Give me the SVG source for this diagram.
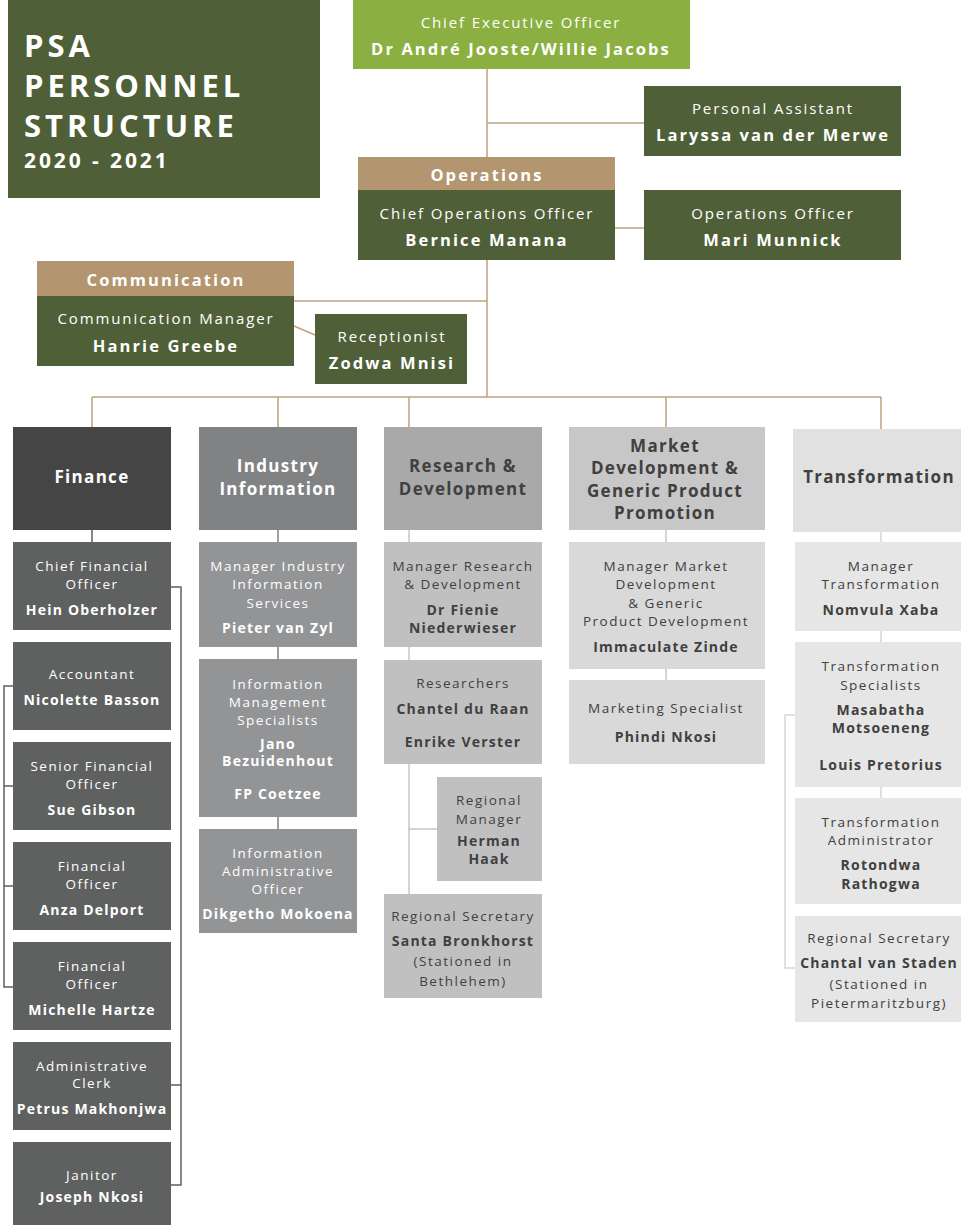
<svg xmlns="http://www.w3.org/2000/svg" width="961" height="1225" viewBox="0 0 961 1225">
<style>
text{font-family:"Open Sans","Liberation Sans",sans-serif;text-anchor:middle}
.r{font-size:13.5px;letter-spacing:1.5px}
.n{font-size:14px;font-weight:bold;letter-spacing:1.2px}
.h{font-size:17px;font-weight:bold;letter-spacing:1.3px}
.tr{font-size:15px;letter-spacing:1.9px}
.tn{font-size:16.5px;font-weight:bold;letter-spacing:2.1px}
.big{text-anchor:start;font-size:31px;font-weight:bold;letter-spacing:4px}
.w{fill:#fff}
.d{fill:#404040}
.g{fill:#4F5F38}
.tan{fill:#B39670}
.ln{fill:none;stroke:#BFA27F;stroke-width:1.5}
.lf{fill:none;stroke:#5E5F5F;stroke-width:1.5}
.li{fill:none;stroke:#7F8082;stroke-width:1.5}
.lr{fill:none;stroke:#C6C6C6;stroke-width:1.5}
.lt{fill:none;stroke:#D6D6D6;stroke-width:1.5}
</style>
<g id="connectors">
<path class="ln" d="M487 69V157M487 123H644M615 228H644M487 260V397M294 301H487M294 326L315 335M92 397H881M92 397V427M278 397V427M409 397V427M666 397V427M881 397V429"/>
<path class="lf" d="M92 530V542M171 587H181V1185H171M171 1085H181M13 686H4V987H13M4 786H13M4 886H13"/>
<path class="li" d="M278 530V542M278 647V659M278 817V829"/>
<path class="lr" d="M409 530V542M409 647V660M409 764V894M409 829H437M666 530V542M666 669V680"/>
<path class="lt" d="M881 532V542M881 631V642M881 787V798M795 715H785V968H795"/>
</g>
<g id="title">
<rect x="8" y="0" width="312" height="198" class="g"/>
<text x="24" y="57" class="w big">PSA</text>
<text x="24" y="97" class="w big">PERSONNEL</text>
<text x="24" y="137" class="w big">STRUCTURE</text>
<text x="24" y="168" class="w" style="text-anchor:start;font-size:21px;font-weight:bold;letter-spacing:2.9px">2020 - 2021</text>
</g>
<g id="ceo">
<rect x="353" y="0" width="337" height="69" fill="#8BB041"/>
<text x="521" y="28" class="w tr">Chief Executive Officer</text>
<text x="521" y="55" class="w tn">Dr André Jooste/Willie Jacobs</text>
</g>
<g id="pa">
<rect x="644" y="86" width="257" height="70" class="g"/>
<text x="773" y="114" class="w tr">Personal Assistant</text>
<text x="773" y="141" class="w tn">Laryssa van der Merwe</text>
</g>
<g id="operations">
<rect x="358" y="157" width="257" height="33" class="tan"/>
<text x="487" y="181" class="w tn">Operations</text>
<rect x="358" y="190" width="257" height="70" class="g"/>
<text x="487" y="219" class="w tr">Chief Operations Officer</text>
<text x="487" y="246" class="w tn">Bernice Manana</text>
</g>
<g id="ops-officer">
<rect x="644" y="190" width="257" height="70" class="g"/>
<text x="773" y="219" class="w tr">Operations Officer</text>
<text x="773" y="246" class="w tn">Mari Munnick</text>
</g>
<g id="communication">
<rect x="37" y="261" width="257" height="35" class="tan"/>
<text x="166" y="286" class="w tn">Communication</text>
<rect x="37" y="296" width="257" height="70" class="g"/>
<text x="166" y="324" class="w tr">Communication Manager</text>
<text x="166" y="352" class="w tn">Hanrie Greebe</text>
</g>
<g id="receptionist">
<rect x="315" y="314" width="152" height="70" class="g"/>
<text x="392" y="342" class="w tr">Receptionist</text>
<text x="392" y="369" class="w tn">Zodwa Mnisi</text>
</g>
<g id="finance">
<rect x="13" y="427" width="158" height="103" fill="#454545"/>
<text x="92" y="483" class="h w">Finance</text>
</g>
<g id="industry">
<rect x="199" y="427" width="158" height="103" fill="#818284"/>
<text x="278" y="472" class="h w">Industry</text>
<text x="278" y="495" class="h w">Information</text>
</g>
<g id="rnd">
<rect x="384" y="427" width="158" height="103" fill="#A9A9A9"/>
<text x="463" y="472" class="h d">Research &amp;</text>
<text x="463" y="495" class="h d">Development</text>
</g>
<g id="market">
<rect x="569" y="427" width="196" height="103" fill="#C7C7C7"/>
<text x="665" y="452" class="h d">Market</text>
<text x="665" y="474" class="h d">Development &amp;</text>
<text x="665" y="497" class="h d">Generic Product</text>
<text x="665" y="519" class="h d">Promotion</text>
</g>
<g id="transformation">
<rect x="793" y="429" width="168" height="103" fill="#E1E1E1"/>
<text x="879" y="483" class="h d">Transformation</text>
</g>
<g id="cfo">
<rect x="13" y="542" width="158" height="88" fill="#5F6060"/>
<text x="92" y="571" class="r w">Chief Financial</text>
<text x="92" y="589" class="r w">Officer</text>
<text x="92" y="615" class="n w">Hein Oberholzer</text>
</g>
<g id="accountant">
<rect x="13" y="642" width="158" height="88" fill="#5F6060"/>
<text x="92" y="679" class="r w">Accountant</text>
<text x="92" y="705" class="n w">Nicolette Basson</text>
</g>
<g id="sfo">
<rect x="13" y="742" width="158" height="88" fill="#5F6060"/>
<text x="92" y="771" class="r w">Senior Financial</text>
<text x="92" y="789" class="r w">Officer</text>
<text x="92" y="815" class="n w">Sue Gibson</text>
</g>
<g id="fo1">
<rect x="13" y="842" width="158" height="88" fill="#5F6060"/>
<text x="92" y="871" class="r w">Financial</text>
<text x="92" y="889" class="r w">Officer</text>
<text x="92" y="915" class="n w">Anza Delport</text>
</g>
<g id="fo2">
<rect x="13" y="942" width="158" height="88" fill="#5F6060"/>
<text x="92" y="971" class="r w">Financial</text>
<text x="92" y="989" class="r w">Officer</text>
<text x="92" y="1015" class="n w">Michelle Hartze</text>
</g>
<g id="clerk">
<rect x="13" y="1042" width="158" height="88" fill="#5F6060"/>
<text x="92" y="1071" class="r w">Administrative</text>
<text x="92" y="1088" class="r w">Clerk</text>
<text x="92" y="1114" class="n w">Petrus Makhonjwa</text>
</g>
<g id="janitor">
<rect x="13" y="1142" width="158" height="83" fill="#5F6060"/>
<text x="92" y="1180" class="r w">Janitor</text>
<text x="92" y="1202" class="n w">Joseph Nkosi</text>
</g>
<g id="mgr-industry">
<rect x="199" y="542" width="158" height="105" fill="#939496"/>
<text x="278" y="571" class="r w">Manager Industry</text>
<text x="278" y="589" class="r w">Information</text>
<text x="278" y="608" class="r w">Services</text>
<text x="278" y="633" class="n w">Pieter van Zyl</text>
</g>
<g id="ims">
<rect x="199" y="659" width="158" height="158" fill="#939496"/>
<text x="278" y="689" class="r w">Information</text>
<text x="278" y="707" class="r w">Management</text>
<text x="278" y="725" class="r w">Specialists</text>
<text x="278" y="749" class="n w">Jano</text>
<text x="278" y="766" class="n w">Bezuidenhout</text>
<text x="278" y="799" class="n w">FP Coetzee</text>
</g>
<g id="iao">
<rect x="199" y="829" width="158" height="104" fill="#939496"/>
<text x="278" y="858" class="r w">Information</text>
<text x="278" y="876" class="r w">Administrative</text>
<text x="278" y="894" class="r w">Officer</text>
<text x="278" y="919" class="n w">Dikgetho Mokoena</text>
</g>
<g id="mgr-rnd">
<rect x="384" y="542" width="158" height="105" fill="#C0C0C0"/>
<text x="463" y="571" class="r d">Manager Research</text>
<text x="463" y="589" class="r d">&amp; Development</text>
<text x="463" y="615" class="n d">Dr Fienie</text>
<text x="463" y="633" class="n d">Niederwieser</text>
</g>
<g id="researchers">
<rect x="384" y="660" width="158" height="104" fill="#C0C0C0"/>
<text x="463" y="688" class="r d">Researchers</text>
<text x="463" y="714" class="n d">Chantel du Raan</text>
<text x="463" y="747" class="n d">Enrike Verster</text>
</g>
<g id="regional-mgr">
<rect x="437" y="777" width="105" height="104" fill="#C0C0C0"/>
<text x="489" y="805" class="r d">Regional</text>
<text x="489" y="824" class="r d">Manager</text>
<text x="489" y="846" class="n d">Herman</text>
<text x="489" y="864" class="n d">Haak</text>
</g>
<g id="regional-sec-rnd">
<rect x="384" y="894" width="158" height="104" fill="#C0C0C0"/>
<text x="463" y="921" class="r d">Regional Secretary</text>
<text x="463" y="946" class="n d">Santa Bronkhorst</text>
<text x="463" y="966" class="r d">(Stationed in</text>
<text x="463" y="986" class="r d">Bethlehem)</text>
</g>
<g id="mgr-market">
<rect x="569" y="542" width="196" height="127" fill="#D9D9D9"/>
<text x="666" y="571" class="r d">Manager Market</text>
<text x="666" y="589" class="r d">Development</text>
<text x="666" y="608" class="r d">&amp; Generic</text>
<text x="666" y="626" class="r d">Product Development</text>
<text x="666" y="652" class="n d">Immaculate Zinde</text>
</g>
<g id="marketing">
<rect x="569" y="680" width="196" height="84" fill="#D9D9D9"/>
<text x="666" y="713" class="r d">Marketing Specialist</text>
<text x="666" y="742" class="n d">Phindi Nkosi</text>
</g>
<g id="mgr-trans">
<rect x="795" y="542" width="166" height="89" fill="#E6E6E6"/>
<text x="881" y="571" class="r d">Manager</text>
<text x="881" y="589" class="r d">Transformation</text>
<text x="881" y="615" class="n d">Nomvula Xaba</text>
</g>
<g id="trans-spec">
<rect x="795" y="642" width="166" height="145" fill="#E6E6E6"/>
<text x="881" y="671" class="r d">Transformation</text>
<text x="881" y="690" class="r d">Specialists</text>
<text x="881" y="715" class="n d">Masabatha</text>
<text x="881" y="733" class="n d">Motsoeneng</text>
<text x="881" y="770" class="n d">Louis Pretorius</text>
</g>
<g id="trans-admin">
<rect x="795" y="798" width="166" height="106" fill="#E6E6E6"/>
<text x="881" y="827" class="r d">Transformation</text>
<text x="881" y="845" class="r d">Administrator</text>
<text x="881" y="870" class="n d">Rotondwa</text>
<text x="881" y="889" class="n d">Rathogwa</text>
</g>
<g id="regional-sec-trans">
<rect x="795" y="916" width="166" height="106" fill="#E6E6E6"/>
<text x="879" y="943" class="r d">Regional Secretary</text>
<text x="879" y="968" class="n d">Chantal van Staden</text>
<text x="879" y="989" class="r d">(Stationed in</text>
<text x="879" y="1008" class="r d">Pietermaritzburg)</text>
</g>
</svg>
